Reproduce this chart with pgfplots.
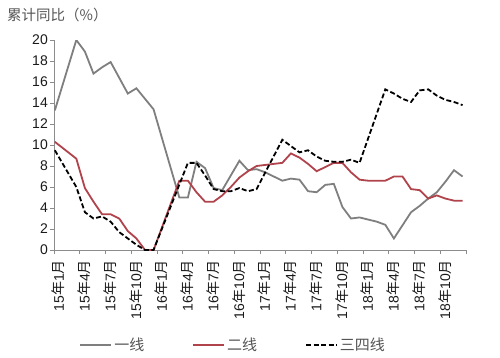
\documentclass[border=0pt]{standalone}
\usepackage{pgfplots}
\pgfplotsset{compat=1.18}
\usepackage{fontspec}
\setmainfont{Liberation Sans}
\newfontfamily\cjk{Noto Sans CJK SC}
\newcommand\N{{\cjk 年}}
\newcommand\Y{{\cjk 月}}
\definecolor{lgray}{HTML}{7F7F7F}
\definecolor{lred}{HTML}{B0434B}
\definecolor{axgray}{HTML}{8C8C8C}
\definecolor{txt}{HTML}{1A1A1A}
\definecolor{legtxt}{HTML}{555555}
\pgfplotstableread{
x y
0.1 13.3
2.6 20.0
3.6 18.9
4.6 16.8
5.6 17.4
6.6 17.9
8.6 14.9
9.6 15.4
11.6 13.4
14.6 5.0
15.6 5.0
16.6 8.4
17.6 7.8
18.6 5.9
19.6 5.7
21.6 8.5
22.6 7.6
23.6 7.7
24.6 7.4
25.6 7.0
26.6 6.6
27.6 6.8
28.6 6.7
29.6 5.6
30.6 5.5
31.6 6.2
32.6 6.3
33.6 4.1
34.6 3.0
35.6 3.1
36.6 2.9
37.6 2.7
38.6 2.4
39.6 1.1
41.6 3.6
42.6 4.2
43.6 4.9
44.6 5.5
45.6 6.5
46.6 7.6
47.6 7.0
}\tierone
\pgfplotstableread{
x y
0.1 10.3
2.6 8.7
3.6 5.9
4.6 4.6
5.6 3.4
6.6 3.4
7.6 3.0
8.6 1.8
9.6 1.1
10.6 0.0
11.6 0.0
14.6 6.6
15.6 6.6
16.6 5.5
17.6 4.6
18.6 4.6
19.6 5.2
20.6 6.0
21.6 6.9
22.6 7.5
23.6 8.0
24.6 8.1
25.6 8.2
26.6 8.3
27.6 9.2
28.6 8.8
29.6 8.2
30.6 7.5
31.6 7.9
32.6 8.3
33.6 8.3
34.6 7.4
35.6 6.7
36.6 6.6
37.6 6.6
38.6 6.6
39.6 7.0
40.6 7.0
41.6 5.8
42.6 5.7
43.6 4.9
44.6 5.2
45.6 4.9
46.6 4.7
47.6 4.7
}\tiertwo
\pgfplotstableread{
x y
0.1 9.5
2.6 6.0
3.6 3.6
4.6 3.0
5.6 3.2
6.6 2.7
7.6 1.7
8.6 1.1
9.6 0.5
10.6 0.0
11.6 0.0
15.6 8.3
16.6 8.3
17.6 7.1
18.6 5.8
19.6 5.6
20.6 5.6
21.6 5.9
22.6 5.6
23.6 5.8
26.6 10.5
27.6 9.9
28.6 9.3
29.6 9.5
30.6 8.9
31.6 8.5
32.6 8.4
33.6 8.4
34.6 8.6
35.6 8.3
38.6 15.3
39.6 14.9
40.6 14.4
41.6 14.1
42.6 15.2
43.6 15.3
44.6 14.7
45.6 14.3
46.6 14.1
47.6 13.8
}\tierthree
\begin{document}
\begin{tikzpicture}
\useasboundingbox (-54bp,-108bp) rectangle (446bp,250bp);
\begin{axis}[
  at={(0,0)}, anchor=south west, scale only axis,
  width=412bp, height=210bp,
  xmin=0, xmax=48, ymin=0, ymax=20,
  axis x line*=bottom, axis y line*=left,
  axis line style={draw=axgray, line width=1bp, -},
  tick style={draw=axgray, line width=1bp},
  major tick length=4bp,
  tick align=outside,
  ytick={0,2,...,20},
  xtick={0,3,...,48},
  xticklabels={15\N1\Y,15\N4\Y,15\N7\Y,15\N10\Y,16\N1\Y,16\N4\Y,16\N7\Y,16\N10\Y,17\N1\Y,17\N4\Y,17\N7\Y,17\N10\Y,18\N1\Y,18\N4\Y,18\N7\Y,18\N10\Y,{}},
  xticklabel style={xshift=4.5bp, yshift=-4bp, rotate=90, anchor=east, inner sep=2bp, font=\fontsize{14bp}{16bp}\selectfont, text=txt},
  yticklabel style={inner sep=2bp, font=\fontsize{14bp}{16bp}\selectfont, text=txt},
  /pgf/number format/assume math mode=true,
  legend columns=3,
  legend style={at={(0.435,-0.452)}, anchor=center, draw=none, fill=none,
    font=\fontsize{15bp}{16bp}\selectfont\cjk, text=legtxt,
    /tikz/every even column/.append style={column sep=46bp}},
  legend image code/.code={\draw[#1] (0bp,0bp) -- (31bp,0bp);},
]
\addplot[lgray, line width=1.8bp] table {\tierone};
\addlegendentry{一线}
\addplot[lred, line width=1.8bp] table {\tiertwo};
\addlegendentry{二线}
\addplot[black, line width=1.8bp, dash pattern=on 5bp off 2.5bp] table {\tierthree};
\addlegendentry{三四线}
\end{axis}
\node[anchor=west, inner sep=0pt, font=\fontsize{14.5bp}{16bp}\selectfont\cjk, text=legtxt] at (-47bp,235bp) {累计同比（\%）};
\end{tikzpicture}
\end{document}
